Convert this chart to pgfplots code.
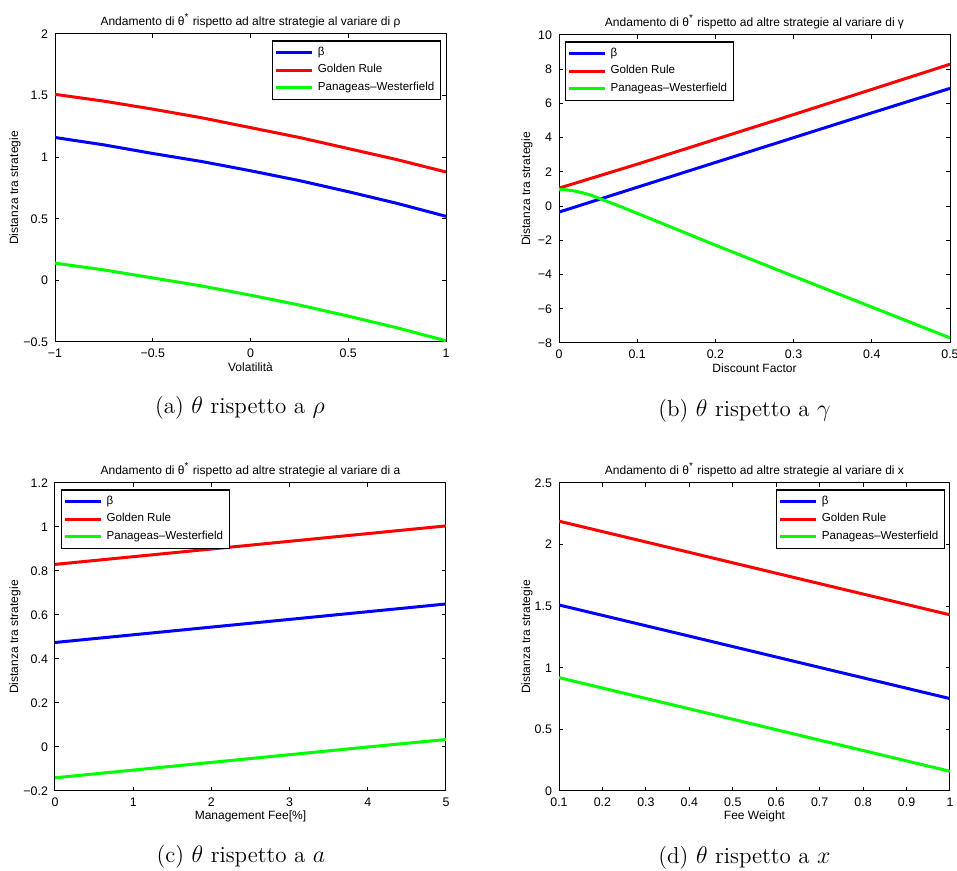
\documentclass[border=0pt]{standalone}
\usepackage{fontspec}
\newfontfamily\arial{Liberation Sans}
\usepackage{pgfplots}
\pgfplotsset{compat=1.18}
\definecolor{mblue}{rgb}{0,0,1}
\definecolor{mred}{rgb}{1,0,0}
\definecolor{mgreen}{rgb}{0,1,0}

\pgfplotsset{
  matlab/.style={
    scale only axis, width=195.5pt, height=154pt,
    anchor=south west,
    axis line style={line width=0.5pt},
    tick style={line width=0.5pt, black},
    major tick length=2pt,
    tick align=inside,
    ticklabel style={font=\arial\fontsize{6.2}{7}\selectfont},
    title style={font=\arial\fontsize{6}{7}\selectfont, yshift=-6.5pt},
    label style={font=\arial\fontsize{6}{7}\selectfont},
    xlabel style={at={(axis description cs:0.5,0)}, anchor=center, yshift=-12.8pt},
    ylabel={Distanza tra strategie},
    legend cell align=left,
    legend style={font=\arial\fontsize{5.8}{7}\selectfont, draw=black, line width=0.6pt,
      inner sep=1pt, row sep=-1pt},
    legend image code/.code={\draw[#1, line width=1.5pt] (0pt,0pt) -- (18pt,0pt);},
    every axis plot/.append style={line width=1.5pt, mark=none},
  },
  legNE/.style={legend style={at={(1,1)}, anchor=north east, xshift=-2.5pt, yshift=-3.2pt}},
  legNW/.style={legend style={at={(0,1)}, anchor=north west, xshift=3pt, yshift=-3.2pt}},
}

\begin{document}
\begin{tikzpicture}
\useasboundingbox (0,0) rectangle (478.5pt,435.5pt);

% (a) rho
\begin{axis}[matlab, legNE, at={(27.5pt,264.5pt)},
  xmin=-1, xmax=1, ymin=-0.5, ymax=2,
  xtick={-1,-0.5,0,0.5,1}, xticklabels={−1,−0.5,0,0.5,1},
  ytick={-0.5,0,0.5,1,1.5,2}, yticklabels={−0.5,0,0.5,1,1.5,2},
  title={Andamento di θ\textsuperscript{*} rispetto ad altre strategie al variare di ρ},
  xlabel={Volatilità},
  ylabel style={at={(axis description cs:-0.102,0.5)}, anchor=center}]
\addplot[mblue] coordinates {(-1,1.16) (-0.75,1.10) (-0.5,1.03) (-0.25,0.965) (0,0.89) (0.25,0.81) (0.5,0.72) (0.75,0.625) (1,0.52)};
\addlegendentry{β}
\addplot[mred] coordinates {(-1,1.51) (-0.75,1.455) (-0.5,1.39) (-0.25,1.32) (0,1.24) (0.25,1.16) (0.5,1.07) (0.75,0.98) (1,0.88)};
\addlegendentry{Golden Rule}
\addplot[mgreen] coordinates {(-1,0.14) (-0.75,0.085) (-0.5,0.02) (-0.25,-0.045) (0,-0.12) (0.25,-0.20) (0.5,-0.29) (0.75,-0.385) (1,-0.49)};
\addlegendentry{Panageas–Westerfield}
\end{axis}

% (b) gamma
\begin{axis}[matlab, legNW, at={(279.5pt,264pt)},
  xmin=0, xmax=0.5, ymin=-8, ymax=10,
  xtick={0,0.1,0.2,0.3,0.4,0.5}, xticklabels={0,0.1,0.2,0.3,0.4,0.5},
  ytick={-8,-6,-4,-2,0,2,4,6,8,10}, yticklabels={−8,−6,−4,−2,0,2,4,6,8,10},
  title={Andamento di θ\textsuperscript{*} rispetto ad altre strategie al variare di γ},
  xlabel={Discount Factor},
  ylabel style={at={(axis description cs:-0.082,0.5)}, anchor=center}]
\addplot[mblue] coordinates {(0,-0.35) (0.1,1.10) (0.2,2.55) (0.3,4.0) (0.4,5.45) (0.5,6.88)};
\addlegendentry{β}
\addplot[mred] coordinates {(0,1.05) (0.1,2.45) (0.2,3.9) (0.3,5.35) (0.4,6.82) (0.5,8.29)};
\addlegendentry{Golden Rule}
\addplot[mgreen] coordinates {(0,0.97) (0.01,0.95) (0.02,0.88) (0.03,0.78) (0.04,0.65) (0.05,0.48) (0.06,0.3) (0.08,-0.05) (0.1,-0.42) (0.15,-1.35) (0.2,-2.28) (0.3,-4.1) (0.4,-5.9) (0.5,-7.7)};
\addlegendentry{Panageas–Westerfield}
\end{axis}

% (c) a
\begin{axis}[matlab, legNW, at={(27.5pt,40pt)},
  xmin=0, xmax=5, ymin=-0.2, ymax=1.2,
  xtick={0,1,2,3,4,5}, xticklabels={0,1,2,3,4,5},
  ytick={-0.2,0,0.2,0.4,0.6,0.8,1,1.2}, yticklabels={−0.2,0,0.2,0.4,0.6,0.8,1,1.2},
  title={Andamento di θ\textsuperscript{*} rispetto ad altre strategie al variare di a},
  xlabel={Management Fee[\%]},
  ylabel style={at={(axis description cs:-0.102,0.5)}, anchor=center}]
\addplot[mblue] coordinates {(0,0.475) (1,0.51) (2,0.545) (3,0.58) (4,0.615) (5,0.65)};
\addlegendentry{β}
\addplot[mred] coordinates {(0,0.83) (1,0.865) (2,0.9) (3,0.935) (4,0.97) (5,1.005)};
\addlegendentry{Golden Rule}
\addplot[mgreen] coordinates {(0,-0.14) (1,-0.105) (2,-0.07) (3,-0.035) (4,0.0) (5,0.034)};
\addlegendentry{Panageas–Westerfield}
\end{axis}

% (d) x
\begin{axis}[matlab, legNE, at={(279.5pt,40pt)},
  xmin=0.1, xmax=1, ymin=0, ymax=2.5,
  xtick={0.1,0.2,0.3,0.4,0.5,0.6,0.7,0.8,0.9,1}, xticklabels={0.1,0.2,0.3,0.4,0.5,0.6,0.7,0.8,0.9,1},
  ytick={0,0.5,1,1.5,2,2.5}, yticklabels={0,0.5,1,1.5,2,2.5},
  title={Andamento di θ\textsuperscript{*} rispetto ad altre strategie al variare di x},
  xlabel={Fee Weight},
  ylabel style={at={(axis description cs:-0.082,0.5)}, anchor=center}]
\addplot[mblue] coordinates {(0.1,1.51) (0.4,1.257) (0.7,1.003) (1,0.75)};
\addlegendentry{β}
\addplot[mred] coordinates {(0.1,2.19) (0.4,1.937) (0.7,1.683) (1,1.43)};
\addlegendentry{Golden Rule}
\addplot[mgreen] coordinates {(0.1,0.92) (0.4,0.667) (0.7,0.413) (1,0.16)};
\addlegendentry{Panageas–Westerfield}
\end{axis}

\node[font=\fontsize{11.5}{13}\selectfont] at (120pt,231.5pt) {(a) $\theta$ rispetto a $\rho$};
\node[font=\fontsize{11.5}{13}\selectfont] at (372.25pt,230pt) {(b) $\theta$ rispetto a $\gamma$};
\node[font=\fontsize{11.5}{13}\selectfont] at (120.5pt,7.2pt) {(c) $\theta$ rispetto a $a$};
\node[font=\fontsize{11.5}{13}\selectfont] at (372.25pt,6.7pt) {(d) $\theta$ rispetto a $x$};
\end{tikzpicture}
\end{document}
